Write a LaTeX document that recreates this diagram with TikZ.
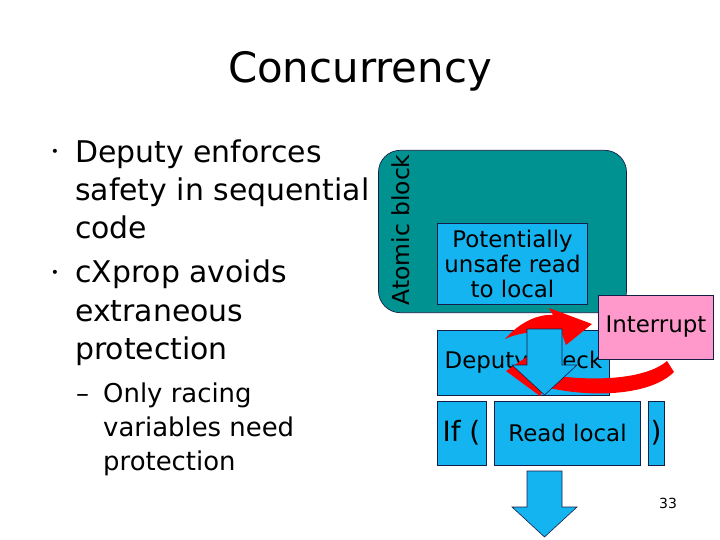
\documentclass[tikz,border=0pt]{standalone}
\usepackage{fontspec}
\setmainfont{DejaVu Sans}
\usetikzlibrary{positioning}

\definecolor{atomteal}{RGB}{0,145,145}
\definecolor{boxblue}{RGB}{20,180,240}
\definecolor{intpink}{RGB}{255,153,204}
\definecolor{boxline}{RGB}{20,30,70}

\begin{document}
\begin{tikzpicture}[
    x=1bp, y=-1bp,
    bluebox/.style={rectangle, draw=boxline, line width=0.7pt, fill=boxblue, inner sep=0pt, align=center, font=\fontsize{23}{25.5}\selectfont},
    pinkbox/.style={rectangle, draw=boxline, line width=0.7pt, fill=intpink, inner sep=0pt, align=center, font=\fontsize{23}{25}\selectfont},
    tealbox/.style={rectangle, draw=boxline, line width=0.7pt, fill=atomteal, rounded corners=22pt, inner sep=0pt},
    mainline/.style={anchor=base west, inner sep=0pt, font=\fontsize{30}{30}\selectfont},
    subline/.style={anchor=base west, inner sep=0pt, font=\fontsize{26}{26}\selectfont},
    dot/.style={inner sep=0pt, font=\fontsize{14}{14}\selectfont},
    redarrow/.style={fill=red, draw=none},
    downarrow/.pic={
        \path[draw=boxline, line width=0.6pt, fill=boxblue] (-17.5,0) -- (17.5,0) -- (17.5,36) -- (32.5,36)
            -- (0,66) -- (-32.5,36) -- (-17.5,36) -- cycle;
    }
]
\useasboundingbox[fill=white] (0,0) rectangle (720,540);

% Title
\node[anchor=base, inner sep=0pt, font=\fontsize{42}{42}\selectfont] (title) at (360,83) {Concurrency};

% Bullets
\node[dot] (b1) at (55,153) {•};
\node[mainline] (l1) at (75,163) {Deputy enforces};
\node[mainline] (l2) at (75,201) {safety in sequential};
\node[mainline] (l3) at (75,239) {code};
\node[dot] (b2) at (55,274) {•};
\node[mainline] (l4) at (75,283) {cXprop avoids};
\node[mainline] (l5) at (75,321) {extraneous};
\node[mainline] (l6) at (75,359) {protection};
\node[subline] (d1) at (76,402) {–};
\node[subline] (l7) at (103,402) {Only racing};
\node[subline] (l8) at (103,436) {variables need};
\node[subline] (l9) at (103,470) {protection};

% Atomic block
\node[tealbox, minimum width=249, minimum height=163] (atomic) at (502.5,231.5) {};
\node[rotate=90, inner sep=0pt, font=\fontsize{23.5}{23.5}\selectfont] (atomlbl) at (401,230) {Atomic block};
\node[bluebox, minimum width=151, minimum height=82] (unsafe) at (512.5,264) {Potentially\\unsafe read\\to local};

% Deputy check and interrupt
\node[bluebox, minimum width=173, minimum height=65] (check) at (523.5,362.5) {Deputy check};
\fill[redarrow] (505,339) .. controls (520,322) and (538,314) .. (553,315) -- (549,308) -- (592,324)
    -- (566,345) -- (562,334) .. controls (540,330) and (520,332) .. (505,339) -- cycle;
\fill[redarrow] (674,372) .. controls (650,396) and (590,398) .. (545,387) -- (540,396) -- (506,371)
    -- (528,356) -- (544,374) .. controls (590,382) and (645,380) .. (667,361) -- cycle;
\node[pinkbox, minimum width=115, minimum height=64] (intr) at (656,327) {Interrupt};
\pic at (544.5,329) {downarrow};

% Condition row
\node[bluebox, minimum width=49, minimum height=64, font=\fontsize{28}{28}\selectfont] (ifbox) at (461.5,433) {If (};
\node[bluebox, minimum width=147, minimum height=64] (readbox) at (567.5,433) {Read local};
\node[bluebox, minimum width=16, minimum height=64, font=\fontsize{28}{28}\selectfont] (closebox) at (656,433) {)};
\pic at (544.5,471) {downarrow};

\node[font=\fontsize{14}{14}\selectfont] (pageno) at (668,503) {33};
\end{tikzpicture}
\end{document}
